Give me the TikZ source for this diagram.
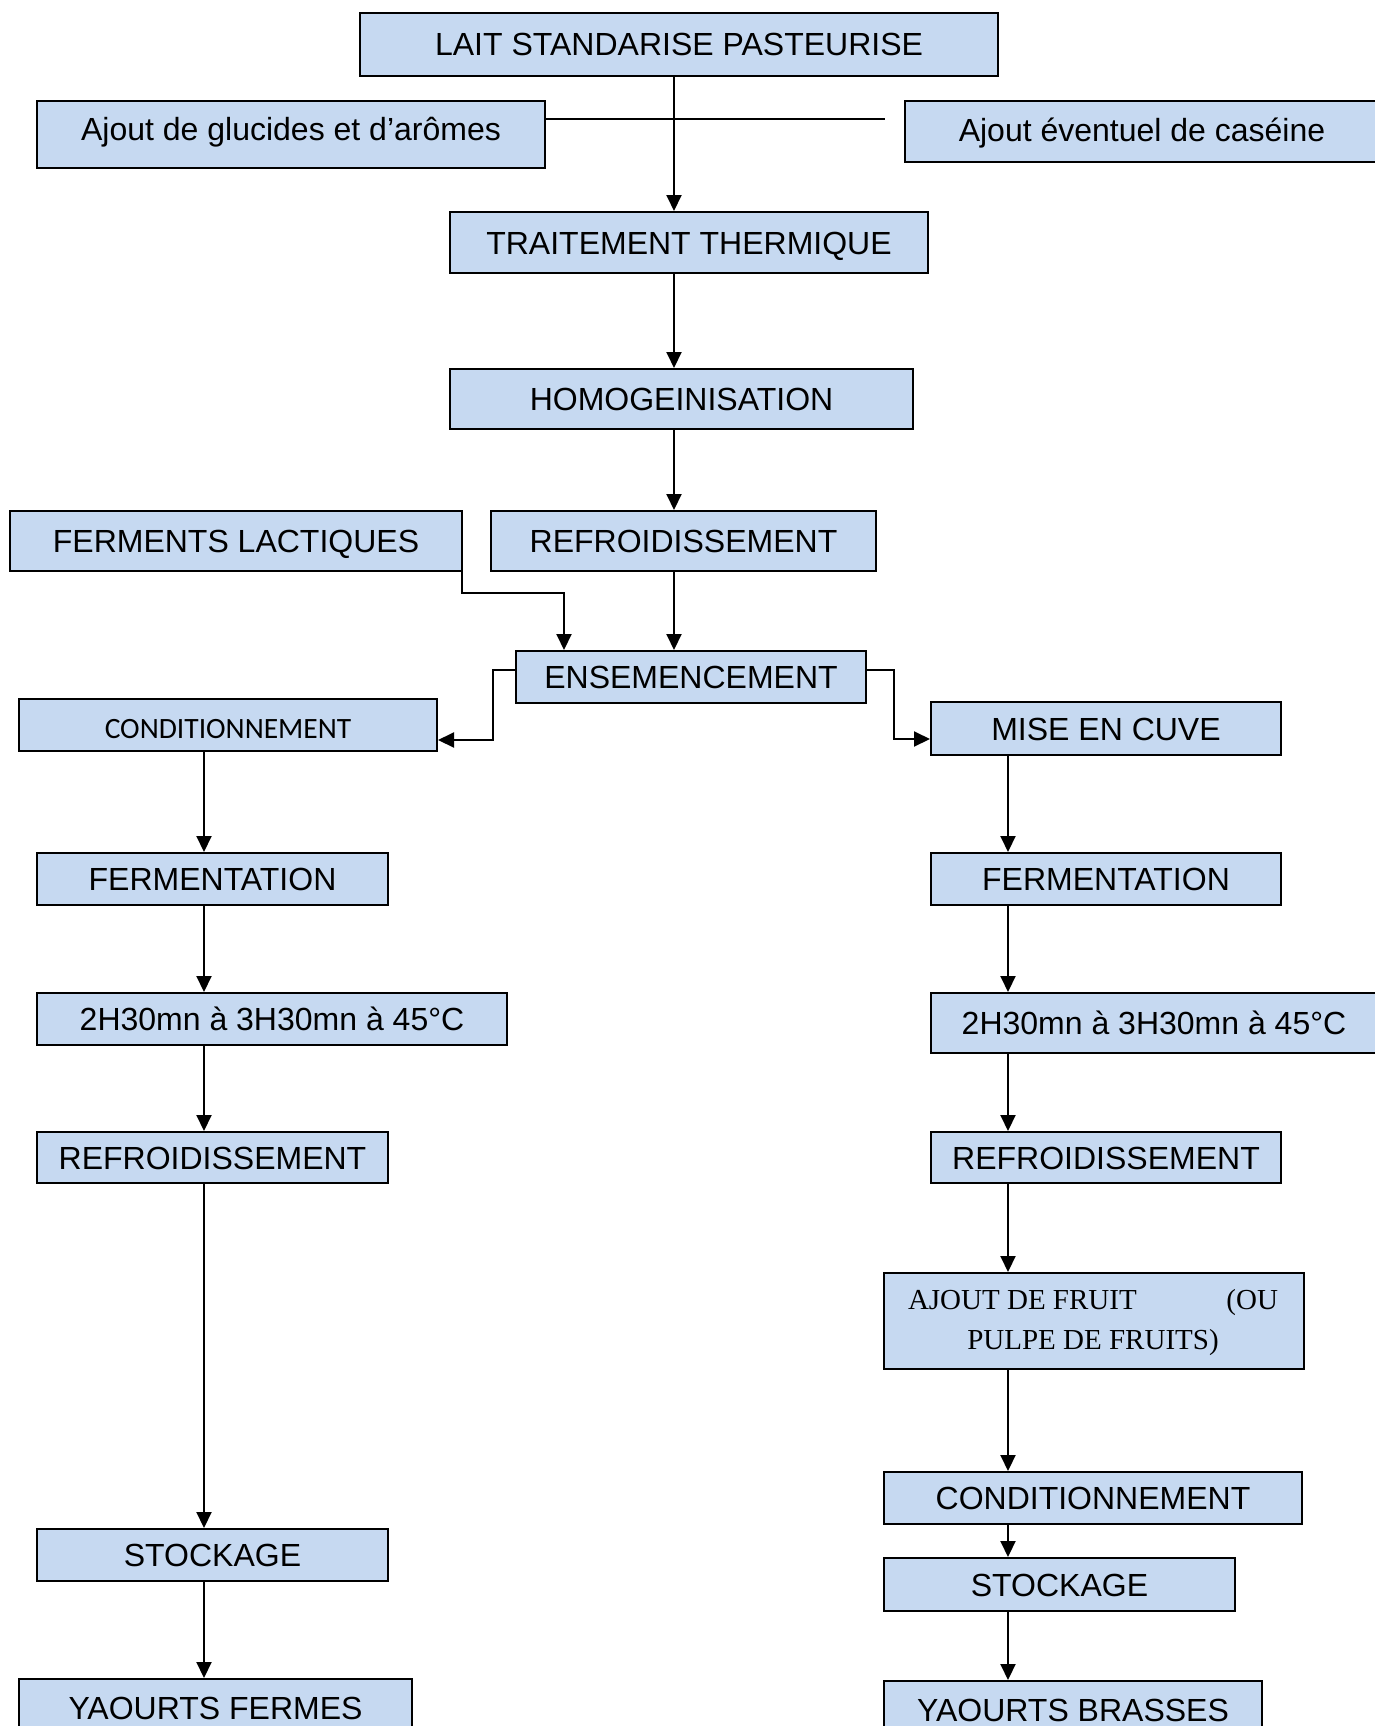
\documentclass[tikz,border=0pt]{standalone}
\usepackage{fontspec}
\setmainfont{Liberation Sans}
\newfontfamily\carlito{Carlito}
\newfontfamily\tnr{Liberation Serif}
\usetikzlibrary{arrows.meta}
\definecolor{boxblue}{RGB}{198,217,241}
\begin{document}
\begin{tikzpicture}[x=1pt,y=-1pt,
  bx/.style={draw, fill=boxblue, line width=2pt, inner sep=0pt,
    font=\fontsize{32}{38}\selectfont, text height=23pt, text depth=0pt, anchor=north west},
  txt/.style={inner sep=0pt, anchor=base},
  arr/.style={line width=2pt, -{Triangle[length=16pt,width=15pt]}},
  ln/.style={line width=2pt}]
\useasboundingbox (0,0) rectangle (1375,1726);
\fill[white] (0,0) rectangle (1375,1726);
% column coordinates
\coordinate (cM) at (674,0);
\coordinate (cL) at (204,0);
\coordinate (cR) at (1008,0);
% boxes
\node[bx, minimum width=638pt, minimum height=63pt] (lait) at (359,12) {LAIT STANDARISE PASTEURISE};
\node[bx, minimum width=508pt, minimum height=67pt, text depth=10pt] (glucides) at (36,100) {Ajout de glucides et d’arômes};
\node[bx, minimum width=474pt, minimum height=61pt, text depth=3pt] (caseine) at (904,100) {Ajout éventuel de caséine};
\node[bx, minimum width=478pt, minimum height=61pt] (trait) at (449,211) {TRAITEMENT THERMIQUE};
\node[bx, minimum width=463pt, minimum height=60pt] (homog) at (449,368) {HOMOGEINISATION};
\node[bx, minimum width=452pt, minimum height=60pt] (ferments) at (9,510) {FERMENTS LACTIQUES};
\node[bx, minimum width=385pt, minimum height=60pt] (refr1) at (490,510) {REFROIDISSEMENT};
\node[bx, minimum width=350pt, minimum height=52pt] (ensem) at (515,650) {ENSEMENCEMENT\hspace{14pt}};
\node[bx, minimum width=418pt, minimum height=52pt, font=\carlito\fontsize{29.5}{35}\selectfont, text height=27pt] (condL) at (18,698) {CONDITIONNEMENT};
\node[bx, minimum width=350pt, minimum height=53pt] (mise) at (930,701) {MISE EN CUVE};
\node[bx, minimum width=351pt, minimum height=52pt] (fermL) at (36,852) {FERMENTATION};
\node[bx, minimum width=470pt, minimum height=52pt] (h1) at (36,992) {2H30mn à 3H30mn à 45°C};
\node[bx, minimum width=351pt, minimum height=51pt] (refrL) at (36,1131) {REFROIDISSEMENT};
\node[bx, minimum width=351pt, minimum height=52pt] (stockL) at (36,1528) {STOCKAGE};
\node[bx, minimum width=393pt, minimum height=58pt] (yfL) at (18,1678) {YAOURTS FERMES};
\node[bx, minimum width=350pt, minimum height=52pt] (fermR) at (930,852) {FERMENTATION};
\node[bx, minimum width=446pt, minimum height=60pt] (h2) at (930,992) {2H30mn à 3H30mn à 45°C};
\node[bx, minimum width=350pt, minimum height=51pt] (refrR) at (930,1131) {REFROIDISSEMENT};
\node[bx, minimum width=420pt, minimum height=96pt] (ajout) at (883,1272) {};
\node[txt, font=\tnr\fontsize{29}{38}\selectfont] (ajout1) at (1093,1309) {\makebox[370pt]{AJOUT DE FRUIT\hfill(OU}};
\node[txt, font=\tnr\fontsize{29}{38}\selectfont] (ajout2) at (1093,1349) {PULPE DE FRUITS)};
\node[bx, minimum width=418pt, minimum height=52pt] (condR) at (883,1471) {CONDITIONNEMENT};
\node[bx, minimum width=351pt, minimum height=53pt] (stockR) at (883,1557) {STOCKAGE};
\node[bx, minimum width=378pt, minimum height=58pt] (ybR) at (883,1680) {YAOURTS BRASSES};
% helper coordinates
\coordinate (gl) at (885,119);
\coordinate (fk) at (564,593);
\coordinate (el) at (493,670);
\coordinate (el2) at (493,740);
\coordinate (er) at (894,670);
\coordinate (er2) at (894,739);
% connectors
\draw[ln] (glucides.east |- gl) -- (gl);
\draw[arr] (cM |- lait.south) -- (cM |- trait.north);
\draw[arr] (cM |- trait.south) -- (cM |- homog.north);
\draw[arr] (cM |- homog.south) -- (cM |- refr1.north);
\draw[arr] (cM |- refr1.south) -- (cM |- ensem.north);
\draw[arr] (ferments.south east) ++(-1,0) |- (fk) -- (fk |- ensem.north);
\draw[arr] (ensem.west |- el) -- (el) -- (el2) -- (condL.east |- el2);
\draw[arr] (ensem.east |- er) -- (er) -- (er2) -- (mise.west |- er2);
\draw[arr] (cL |- condL.south) -- (cL |- fermL.north);
\draw[arr] (cL |- fermL.south) -- (cL |- h1.north);
\draw[arr] (cL |- h1.south) -- (cL |- refrL.north);
\draw[arr] (cL |- refrL.south) -- (cL |- stockL.north);
\draw[arr] (cL |- stockL.south) -- (cL |- yfL.north);
\draw[arr] (cR |- mise.south) -- (cR |- fermR.north);
\draw[arr] (cR |- fermR.south) -- (cR |- h2.north);
\draw[arr] (cR |- h2.south) -- (cR |- refrR.north);
\draw[arr] (cR |- refrR.south) -- (cR |- ajout.north);
\draw[arr] (cR |- ajout.south) -- (cR |- condR.north);
\draw[arr] (cR |- condR.south) -- (cR |- stockR.north);
\draw[arr] (cR |- stockR.south) -- (cR |- ybR.north);
\end{tikzpicture}
\end{document}
